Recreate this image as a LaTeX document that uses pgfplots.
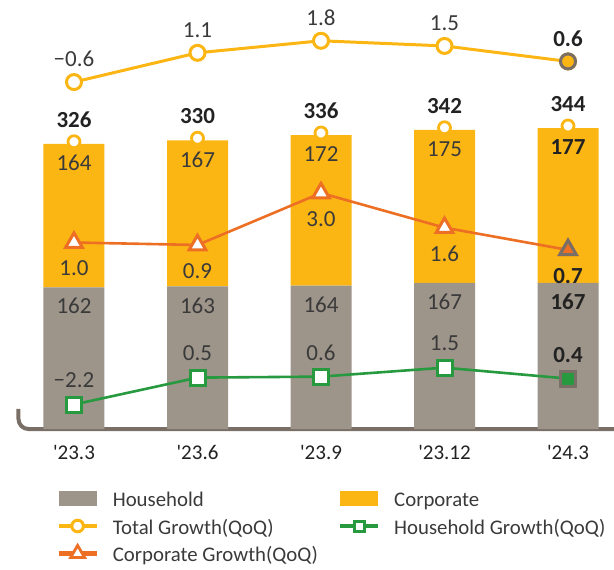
\documentclass[border=0pt]{standalone}
\usepackage{fontspec}
\setmainfont{Carlito}
\usepackage{pgfplots}
\usepackage{pgfplotstable}
\pgfplotsset{compat=1.18}
\definecolor{hhgray}{HTML}{9D948A}
\definecolor{corpyel}{HTML}{FCB614}
\definecolor{corporg}{HTML}{EC6F24}
\definecolor{hhgreen}{HTML}{27993F}
\definecolor{baseln}{HTML}{7A6F66}
\definecolor{txt}{HTML}{3A3A3A}
\definecolor{txtb}{HTML}{222222}

% loans (trillion won) and QoQ growth (%)
\pgfplotstableread{
x hh corp total tg cg hg tgl cgl hgl
0 162 164 326 -0.6 1.0 -2.2 −0.6 1.0 −2.2
1 163 167 330 1.1 0.9 0.5 1.1 0.9 0.5
2 164 172 336 1.8 3.0 0.6 1.8 3.0 0.6
3 167 175 342 1.5 1.6 1.5 1.5 1.6 1.5
4 167 177 344 0.6 0.7 0.4 0.6 0.7 0.4
}\loans

\newcommand\LE[1]{\makebox[119.5pt][l]{\rule[-2.5pt]{0pt}{12.2pt}\hspace{7pt}#1}}

\pgfplotsset{
 base/.style={at={(9pt,-214.5pt)},anchor=south west,scale only axis,width=298pt,height=214.5pt,
  xmin=-0.4534,xmax=4.3725,clip=false},
 over/.style={base,hide axis},
 lab/.style={draw=none,mark=none,nodes near coords,point meta=explicit symbolic,
  every node near coord/.append style={anchor=center,inner sep=0pt,yshift=#1,
   font=\fontsize{11.5}{13}\selectfont,text=txt}},
 bold/.style={every node near coord/.append style={font=\fontsize{11.5}{13}\selectfont\bfseries,text=txtb}},
 first4/.style={skip coords between index={4}{5}},
 last1/.style={skip coords between index={0}{4}},
 barleg/.style={legend image code/.code={\fill[##1] (0pt,-3.65pt) rectangle (19pt,3.65pt);}},
 lineleg/.style={legend image code/.code={\draw[mark repeat=2,mark phase=2,##1,/tikz/sharp plot] plot coordinates {(0pt,0pt) (9.5pt,0pt) (19pt,0pt)};}},
}

\begin{document}
\begin{tikzpicture}
\useasboundingbox (0,0) rectangle (307pt,-284.5pt);

% bars
\begin{axis}[base,ymin=0,ymax=490.29,ybar stacked,bar width=30.5pt,
 axis line style={draw=none},ytick=\empty,xtick={0,1,2,3,4},
 xticklabels={{\textquotesingle}23.3,{\textquotesingle}23.6,{\textquotesingle}23.9,{\textquotesingle}23.12,{\textquotesingle}24.3},
 major tick length=0pt,tick style={draw=none},
 xticklabel style={font=\fontsize{10.5}{12}\selectfont,text=txtb,anchor=center,yshift=-11.75pt},
 legend columns=2,legend cell align=left,
 legend style={draw=none,fill=none,inner sep=0pt,at={(axis description cs:0.0638,-0.1352)},anchor=north west,
  font=\fontsize{10.4}{12}\selectfont,text=txt,row sep=2.5pt,column sep=0pt,nodes={inner sep=0pt}}]
\addplot[fill=hhgray,draw=none,barleg] table[x=x,y=hh]{\loans};
\addlegendentry{\LE{Household}}
\addplot[fill=corpyel,draw=none,barleg] table[x=x,y=corp]{\loans};
\addlegendentry{\LE{Corporate}}
\addlegendimage{lineleg,color=corpyel,line width=2.2pt,mark=*,mark size=2.9pt,mark options={fill=white,draw=corpyel,line width=1.5pt}}
\addlegendentry{\LE{Total Growth(QoQ)}}
\addlegendimage{lineleg,color=hhgreen,line width=2.2pt,mark=square*,mark size=2.5pt,mark options={fill=white,draw=hhgreen,line width=1.5pt}}
\addlegendentry{\LE{Household Growth(QoQ)}}
\addlegendimage{lineleg,color=corporg,line width=2.2pt,mark=triangle*,mark size=4pt,mark options={fill=white,draw=corporg,line width=1.4pt}}
\addlegendentry{\LE{Corporate Growth(QoQ)}}
\draw[baseln,line width=2pt,rounded corners=5pt] (axis cs:-0.4494,22.9) |- (axis cs:4.3725,0);
\end{axis}

% bar labels and top rings
\begin{axis}[over,ymin=0,ymax=490.29]
\addplot[only marks,mark=*,mark size=3pt,mark options={draw=corpyel,fill=white,line width=1.4pt,yshift=1pt}] table[x=x,y=total]{\loans};
\addplot[lab=12pt,bold] table[x=x,y=total,meta=total]{\loans};
\addplot[lab=-9.75pt,first4] table[x=x,y=total,meta=corp]{\loans};
\addplot[lab=-9.75pt,bold,last1] table[x=x,y=total,meta=corp]{\loans};
\addplot[lab=-9.5pt,first4] table[x=x,y=hh,meta=hh]{\loans};
\addplot[lab=-9.5pt,bold,last1] table[x=x,y=hh,meta=hh]{\loans};
\end{axis}

% total growth
\begin{axis}[over,ymin=-20.77,ymax=4.171]
\addplot[color=corpyel,line width=1.5pt,mark=*,mark size=3.75pt,mark options={fill=white,draw=corpyel,line width=1.5pt}] table[x=x,y=tg]{\loans};
\addplot[only marks,last1,mark=*,mark size=3.75pt,mark options={fill=corpyel,draw=baseln,line width=1.5pt}] table[x=x,y=tg]{\loans};
\addplot[lab=11.5pt,first4] table[x=x,y=tg,meta=tgl]{\loans};
\addplot[lab=11.5pt,bold,last1] table[x=x,y=tg,meta=tgl]{\loans};
\end{axis}

% corporate growth
\begin{axis}[over,ymin=-6.536,ymax=10.798]
\addplot[color=corporg,line width=1.3pt,mark=triangle*,mark size=4.8pt,mark options={fill=white,draw=corporg,line width=1.5pt}] table[x=x,y=cg]{\loans};
\addplot[only marks,last1,mark=triangle*,mark size=4.8pt,mark options={fill=corporg,draw=baseln,line width=1.5pt}] table[x=x,y=cg]{\loans};
\addplot[lab=-13pt,first4] table[x=x,y=cg,meta=cgl]{\loans};
\addplot[lab=-13pt,bold,last1] table[x=x,y=cg,meta=cgl]{\loans};
\end{axis}

% household growth
\begin{axis}[over,ymin=-4.66,ymax=38.41]
\addplot[color=hhgreen,line width=1.3pt,mark=square*,mark size=3.75pt,mark options={fill=white,draw=hhgreen,line width=1.5pt}] table[x=x,y=hg]{\loans};
\addplot[only marks,last1,mark=square*,mark size=3.75pt,mark options={fill=hhgreen,draw=baseln,line width=1.5pt}] table[x=x,y=hg]{\loans};
\addplot[lab=12pt,first4] table[x=x,y=hg,meta=hgl]{\loans};
\addplot[lab=12pt,bold,last1] table[x=x,y=hg,meta=hgl]{\loans};
\end{axis}
\end{tikzpicture}
\end{document}
